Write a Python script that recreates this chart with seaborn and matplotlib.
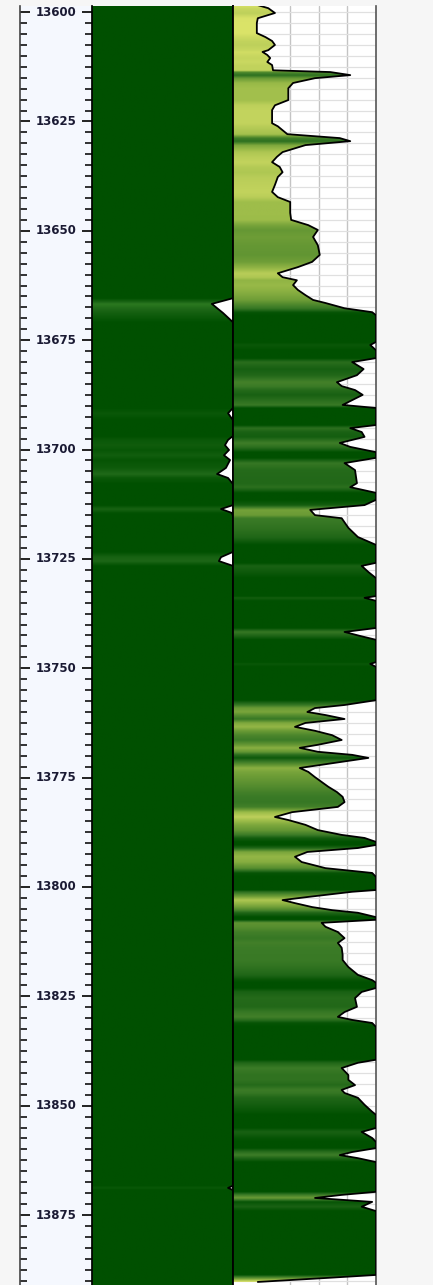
import numpy as np
import pandas as pd
import matplotlib
matplotlib.use("Agg")
import matplotlib.pyplot as plt
import seaborn as sns
from matplotlib.colors import LinearSegmentedColormap, Normalize
from matplotlib.patches import Polygon
from matplotlib.ticker import MultipleLocator

sns.set_theme(style="white")
plt.rcParams['font.family'] = ['DejaVu Sans']

# depth range of the log window (ft)
top_depth = 13598.6
base_depth = 13891.0
depth_labels = [13600, 13625, 13650, 13675, 13700, 13725, 13750, 13775, 13800, 13825, 13850, 13875]

# track 3 curve (gamma ray style, 0-150 scale, values over 150 are clipped)
gr_depth = [13598.4, 13599.1, 13600.2, 13601.4, 13602.5, 13604.8, 13605.3, 13605.7, 13606.6, 13607.5,
            13608.7, 13609.1, 13609.8, 13610.5, 13611.4, 13612.1, 13613.3, 13613.7, 13614.4, 13615.1,
            13616.2, 13617.4, 13620.1, 13621.3, 13622.4, 13625.4, 13626.1, 13627.0, 13627.9, 13628.8,
            13629.5, 13630.4, 13632.0, 13633.1, 13634.3, 13635.4, 13636.6, 13637.7, 13639.5, 13641.1,
            13642.3, 13643.4, 13645.9, 13647.5, 13648.7, 13649.8, 13651.4, 13653.3, 13655.5, 13657.1,
            13658.3, 13659.7, 13660.6, 13661.3, 13662.4, 13663.5, 13664.7, 13665.8, 13666.5, 13667.7,
            13668.6, 13669.3, 13675.4, 13676.1, 13677.3, 13679.1, 13680.0, 13681.6, 13683.0, 13684.6,
            13685.5, 13686.4, 13687.5, 13688.7, 13689.8, 13690.5, 13694.4, 13695.1, 13696.0, 13697.1,
            13698.5, 13699.4, 13700.6, 13701.9, 13703.1, 13704.7, 13707.7, 13708.6, 13709.9, 13711.5,
            13712.7, 13713.8, 13715.0, 13715.7, 13717.9, 13720.0, 13721.8, 13725.9, 13726.6, 13728.0,
            13729.4, 13733.5, 13733.9, 13734.6, 13740.8, 13741.7, 13742.6, 13743.5, 13748.6, 13749.0,
            13749.7, 13757.3, 13757.7, 13758.4, 13759.1, 13760.0, 13760.7, 13761.6, 13762.5, 13763.4,
            13764.3, 13765.3, 13766.4, 13767.5, 13768.2, 13769.1, 13769.8, 13770.5, 13771.4, 13772.8,
            13773.7, 13774.9, 13776.0, 13777.1, 13778.3, 13779.4, 13780.6, 13781.7, 13782.9, 13784.0,
            13784.7, 13785.8, 13787.0, 13788.1, 13788.8, 13789.7, 13790.4, 13791.1, 13792.0, 13793.1,
            13794.3, 13795.7, 13796.8, 13797.7, 13800.7, 13801.1, 13802.3, 13803.0, 13803.7, 13804.6,
            13805.3, 13805.9, 13806.9, 13807.5, 13808.2, 13809.1, 13810.3, 13811.7, 13812.8, 13813.9,
            13815.5, 13816.7, 13818.3, 13820.1, 13821.3, 13821.9, 13823.1, 13824.0, 13825.4, 13827.4,
            13828.6, 13829.7, 13830.4, 13831.1, 13832.0, 13839.5, 13840.2, 13841.4, 13843.0, 13844.1,
            13845.3, 13846.4, 13847.1, 13848.2, 13849.8, 13851.4, 13852.1, 13855.1, 13856.0, 13857.4,
            13858.3, 13859.7, 13860.6, 13861.3, 13862.0, 13862.9, 13869.7, 13870.4, 13871.1, 13872.0,
            13873.1, 13874.1, 13888.7, 13889.4, 13890.3]
gr_value = [26, 37, 44, 26, 25, 25, 30, 34, 41, 44,
            37, 31, 36, 39, 36, 41, 42, 102, 123, 86,
            63, 58, 58, 44, 41, 41, 47, 52, 57, 112,
            123, 76, 52, 46, 41, 49, 52, 47, 44, 41,
            47, 60, 60, 61, 79, 89, 84, 89, 91, 83,
            68, 47, 52, 67, 63, 68, 76, 84, 97, 117,
            146, 155, 155, 144, 155, 155, 125, 137, 130, 109,
            114, 128, 136, 125, 115, 155, 155, 123, 135, 138,
            112, 123, 155, 155, 117, 128, 130, 123, 155, 155,
            138, 81, 86, 114, 121, 131, 155, 155, 135, 142,
            155, 155, 138, 155, 155, 117, 133, 155, 155, 144,
            155, 155, 138, 117, 86, 78, 97, 117, 76, 65,
            86, 104, 114, 89, 70, 89, 125, 142, 114, 70,
            79, 86, 93, 100, 109, 115, 117, 110, 62, 44,
            58, 76, 89, 114, 138, 155, 155, 131, 78, 65,
            72, 97, 146, 155, 155, 125, 78, 52, 65, 83,
            104, 131, 155, 155, 93, 97, 110, 117, 110, 114,
            115, 115, 121, 131, 146, 155, 155, 135, 128, 130,
            117, 110, 125, 146, 155, 155, 131, 114, 121, 121,
            128, 114, 117, 131, 138, 146, 155, 155, 135, 146,
            155, 155, 125, 112, 131, 155, 155, 114, 86, 146,
            135, 155, 155, 97, 26]

# track 2 curve (fraction of track width, values over 1 are clipped)
t2_depth = [13598.0, 13665.0, 13665.4, 13666.7, 13668.8, 13670.9, 13671.3, 13690.5, 13691.7, 13693.3,
            13693.7, 13696.9, 13697.8, 13699.0, 13700.1, 13701.3, 13702.4, 13704.2, 13705.6, 13706.5,
            13707.9, 13712.7, 13713.6, 13714.5, 13715.2, 13723.4, 13724.6, 13725.5, 13726.6, 13868.3,
            13868.8, 13869.3, 13891.0]
t2_value = [1.05, 1.05, 1.0, 0.85, 0.93, 1.0, 1.05, 1.05, 0.965, 1.0,
            1.05, 1.05, 0.965, 0.943, 0.972, 0.936, 0.979, 0.95, 0.887, 0.965,
            1.05, 1.05, 0.915, 0.993, 1.05, 1.05, 0.915, 0.90, 1.05, 1.05,
            0.965, 1.05, 1.05]

gr = pd.DataFrame({"depth": gr_depth, "value": np.minimum(gr_value, 150)})
t2 = pd.DataFrame({"depth": t2_depth, "value": np.minimum(t2_value, 1.0)})

gr_cmap = LinearSegmentedColormap.from_list(
    "gr", [(0.0, "#eef07a"), (20 / 150, "#e2e86c"), (45 / 150, "#bccf5a"), (60 / 150, "#9ebd4a"),
           (85 / 150, "#6c9c36"), (115 / 150, "#3a7a26"), (135 / 150, "#1a6214"), (1.0, "#005000")])
t2_cmap = LinearSegmentedColormap.from_list("t2", ["#3a8a2a", "#1c6616", "#005000"])


def colour_fill(ax, df, xmax, cmap, vmin):
    # fill from the left edge to the curve, coloured by the curve value
    grid = np.linspace(top_depth, base_depth, 4000)
    vals = np.interp(grid, df["depth"], df["value"])
    rgba = cmap(Normalize(vmin, xmax, clip=True)(vals))[:, None, :]
    im = ax.imshow(rgba, extent=[0, xmax, base_depth, top_depth], aspect="auto",
                   interpolation="bilinear", origin="upper", zorder=1)
    xs = [0] + list(df["value"]) + [0]
    ys = [df["depth"].iloc[0]] + list(df["depth"]) + [df["depth"].iloc[-1]]
    poly = Polygon(np.column_stack([xs, ys]), closed=True, facecolor="none", edgecolor="none")
    ax.add_patch(poly)
    im.set_clip_path(poly)


fig = plt.figure(figsize=(4.33, 12.85), dpi=100, facecolor="#f6f6f6")
top = 1 - 6 / 1285
ax_d = fig.add_axes([20 / 433, 0, 72 / 433, top])
ax2 = fig.add_axes([92 / 433, 0, 141 / 433, top])
ax3 = fig.add_axes([233 / 433, 0, 143 / 433, top])

# depth track
ax_d.set_facecolor("#f5f8fe")
ax_d.set_xlim(0, 1)
ax_d.set_ylim(base_depth, top_depth)
ax_d.yaxis.set_major_locator(MultipleLocator(25))
ax_d.yaxis.set_minor_locator(MultipleLocator(2.5))
ax_d.tick_params(axis="y", which="both", direction="in", left=True, right=True,
                 labelleft=False, colors="#222222")
ax_d.tick_params(axis="y", which="major", length=7, width=1.4)
ax_d.tick_params(axis="y", which="minor", length=5, width=1.3)
ax_d.set_xticks([])
for d in depth_labels:
    ax_d.text(0.5, d, str(d), ha="center", va="center", fontsize=8.5,
              fontweight="bold", color="#1a1a33")
for side in ["top", "bottom", "right"]:
    ax_d.spines[side].set_visible(False)
ax_d.spines["left"].set_color("#444444")
ax_d.spines["left"].set_linewidth(1.2)

# track 2
ax2.set_facecolor("white")
colour_fill(ax2, t2, 1.0, t2_cmap, 0.8)
sns.lineplot(data=t2, x="value", y="depth", sort=False, estimator=None, orient="y",
             color="black", linewidth=1.3, ax=ax2, zorder=3)
ax2.set_xlim(0, 1.0)
ax2.set_ylim(base_depth, top_depth)
ax2.set_xticks([])
ax2.set_yticks([])
ax2.set_xlabel("")
ax2.set_ylabel("")
for side in ["top", "bottom"]:
    ax2.spines[side].set_visible(False)
ax2.spines["left"].set_color("black")
ax2.spines["right"].set_color("black")

# track 3
ax3.set_facecolor("white")
ax3.set_axisbelow(True)
ax3.set_xticks([60, 90, 120])
ax3.yaxis.set_major_locator(MultipleLocator(2.5))
ax3.grid(True, axis="x", color="#c4c4c4", linewidth=1.0)
ax3.grid(True, axis="y", color="#e0e0e0", linewidth=0.9)
colour_fill(ax3, gr, 150, gr_cmap, 0)
sns.lineplot(data=gr, x="value", y="depth", sort=False, estimator=None, orient="y",
             color="black", linewidth=1.3, ax=ax3, zorder=3)
ax3.set_xlim(0, 150)
ax3.set_ylim(base_depth, top_depth)
ax3.tick_params(left=False, bottom=False, labelleft=False, labelbottom=False)
ax3.set_xlabel("")
ax3.set_ylabel("")
for side in ["top", "bottom"]:
    ax3.spines[side].set_visible(False)
ax3.spines["left"].set_color("black")
ax3.spines["left"].set_linewidth(1.3)
ax3.spines["right"].set_color("#555555")
ax3.spines["right"].set_linewidth(1.2)

fig.savefig("out.png", dpi=100, facecolor=fig.get_facecolor())
